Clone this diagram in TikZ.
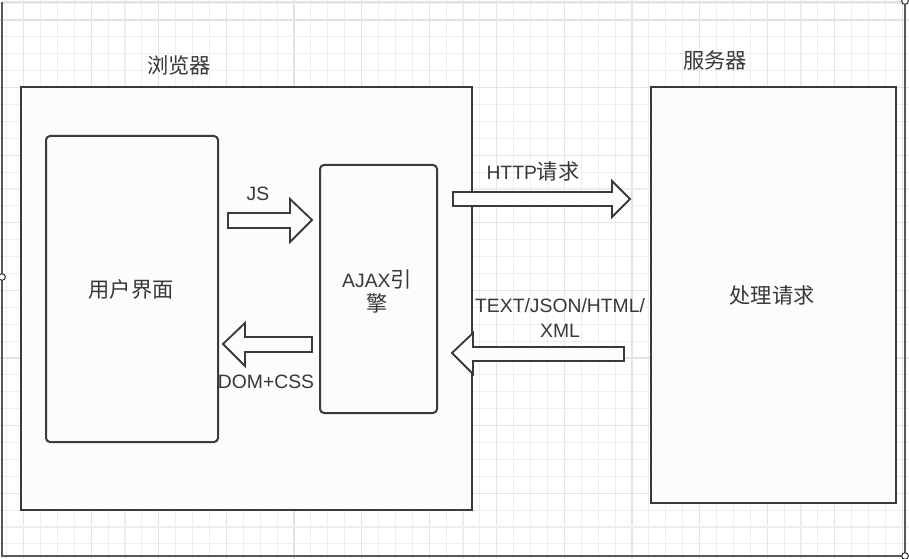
\documentclass[tikz,border=0pt]{standalone}
\usepackage{fontspec}
\setmainfont{Liberation Sans}
\newfontfamily\cjk[Scale=1.1]{Noto Sans CJK SC}
\definecolor{txt}{HTML}{383838}
\definecolor{edge}{HTML}{3A3A3A}
\definecolor{gridminor}{HTML}{EEEEEE}
\definecolor{gridmajor}{HTML}{E3E3E3}
\definecolor{boxfill}{HTML}{FCFCFC}
\begin{document}
\begin{tikzpicture}[x=0.75pt,y=-0.75pt,
  panel/.style={draw=edge,line width=1.5pt,fill=boxfill},
  rpanel/.style={panel,rounded corners=3pt},
  lbl/.style={text=txt,font=\fontsize{14.5}{17}\selectfont,inner sep=0pt},
  blk/.style={draw=edge,line width=1.4pt,fill=boxfill,line join=miter}]
\useasboundingbox (0,0) rectangle (909,559);
\fill[white] (0,0) rectangle (909,559);
% grid
\foreach \k in {0,...,53}{
  \pgfmathtruncatemacro{\m}{mod(\k,4)}
  \ifnum\m=1 \def\gc{gridmajor}\else\def\gc{gridminor}\fi
  \draw[\gc,line width=0.8pt] ({6.7+16.9*\k},0) -- ({6.7+16.9*\k},559);
}
\foreach \k in {0,...,33}{
  \pgfmathtruncatemacro{\m}{mod(\k,4)}
  \ifnum\m=1 \def\gc{gridmajor}\else\def\gc{gridminor}\fi
  \draw[\gc,line width=0.8pt] (0,{3.1+16.9*\k}) -- (909,{3.1+16.9*\k});
}
% outer frame
\draw[gridmajor,line width=1pt] (2,2) -- (905,2);
\draw[edge!85,line width=2pt] (2,2) -- (2,556) -- (905,556) -- (905,2);
% boxes
\node[panel,minimum width=451*0.75pt,minimum height=423*0.75pt,anchor=north west,inner sep=0pt] (browser) at (20,86) {};
\node[rpanel,minimum width=172*0.75pt,minimum height=306*0.75pt,anchor=north west,inner sep=0pt] (ui) at (45,135) {};
\node[rpanel,minimum width=117*0.75pt,minimum height=248*0.75pt,anchor=north west,inner sep=0pt] (ajax) at (319,164) {};
\node[panel,minimum width=245*0.75pt,minimum height=416*0.75pt,anchor=north west,inner sep=0pt] (server) at (650,86) {};
% titles
\node[lbl] (tb) at (179,65) {\cjk 浏览器};
\node[lbl] (ts) at (715,60) {\cjk 服务器};
\node[lbl] (tui) at (131,289) {\cjk 用户界面};
\node[lbl,align=center] (tajax) at (377,292) {AJAX{\cjk 引}\\[1pt]{\cjk 擎}};
\node[lbl] (tsv) at (772,295) {\cjk 处理请求};
% block arrows
% JS (right)
\draw[blk] (228,213) -- (290,213) -- (290,199) -- (312,220) -- (290,242) -- (290,228) -- (228,228) -- cycle;
\node[lbl] (ljs) at (258,194) {JS};
% DOM+CSS (left)
\draw[blk] (312,337) -- (245,337) -- (245,323) -- (223,344) -- (245,366) -- (245,352) -- (312,352) -- cycle;
\node[lbl] (ldom) at (266,382) {DOM+CSS};
% HTTP (right)
\draw[blk] (453,192) -- (612,192) -- (612,181) -- (630,199) -- (612,217) -- (612,206) -- (453,206) -- cycle;
\node[lbl] (lhttp) at (533,171) {HTTP{\cjk 请求}};
% TEXT (left)
\draw[blk] (624,347) -- (473,347) -- (473,333) -- (452,353) -- (473,374) -- (473,361) -- (624,361) -- cycle;
\node[lbl,align=center] (ltext) at (560,318) {TEXT/JSON/HTML/\\[2pt]XML};
% handles
\foreach \p/\n in {{(2,277)}/h1,{(905,1)}/h2,{(905,556)}/h3}
  \node[circle,draw=edge,fill=white,line width=0.8pt,inner sep=0pt,minimum size=5pt] (\n) at \p {};
\end{tikzpicture}
\end{document}
